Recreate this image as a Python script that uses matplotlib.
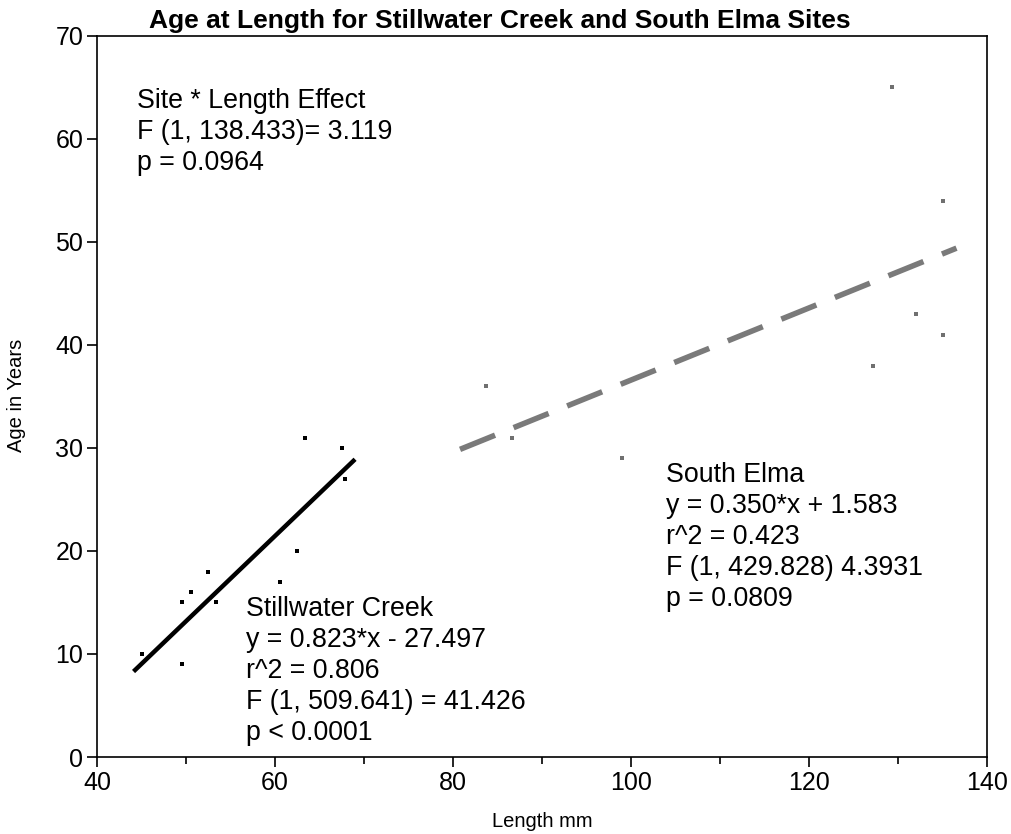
import matplotlib
matplotlib.use("Agg")
import matplotlib.pyplot as plt
import numpy as np
from matplotlib.ticker import MultipleLocator

plt.rcParams['font.family'] = ['Liberation Sans', 'DejaVu Sans']

# Stillwater Creek observations
sw_length = [63.4, 67.5, 67.9, 62.5, 52.5, 60.6, 50.6, 49.6, 53.4, 45.1, 49.6]
sw_age = [31, 30, 27, 20, 18, 17, 16, 15, 15, 10, 9]
# fitted line (endpoints as drawn)
sw_fit_x = [44.1, 69.0]
sw_fit_y = [8.3, 28.9]

# South Elma observations
se_length = [83.7, 86.6, 99.0, 129.3, 135.1, 132.0, 135.1, 127.2]
se_age = [36, 31, 29, 65, 54, 43, 41, 38]
se_slope, se_intercept = 0.350, 1.583
se_range = [80.8, 136.6]

fig = plt.figure(figsize=(10.11, 8.34), dpi=100)
ax = fig.add_axes([0.096, 0.0923, 0.880, 0.8647])

ax.scatter(sw_length, sw_age, s=5, color='black', marker='s', linewidths=0, zorder=3)
ax.scatter(se_length, se_age, s=5, color='#707070', marker='s', linewidths=0, zorder=3)

ax.plot(sw_fit_x, sw_fit_y, color='black', lw=3.2, solid_capstyle='butt')
xs = np.array(se_range)
ax.plot(xs, se_slope * xs + se_intercept, color='#7a7a7a', lw=4.0,
        dashes=(6.8, 3.6), solid_capstyle='butt')

ax.set_xlim(40, 140)
ax.set_ylim(0, 70)
ax.xaxis.set_major_locator(MultipleLocator(20))
ax.xaxis.set_minor_locator(MultipleLocator(10))
ax.yaxis.set_major_locator(MultipleLocator(10))
ax.tick_params(axis='both', which='major', direction='out', length=7, width=1.2,
               labelsize=18, top=False, right=False, pad=3)
ax.tick_params(axis='x', which='minor', direction='out', length=5, width=1.2, top=False)
for sp in ax.spines.values():
    sp.set_linewidth(1.2)

ax.set_xlabel('Length mm', fontsize=14.5)
ax.set_ylabel('Age in Years', fontsize=14.5)
ax.xaxis.set_label_coords(0.501, -0.076)
ax.yaxis.set_label_coords(-0.080, 0.502)
fig.text(500 / 1011, 1 - 21 / 834,
         'Age at Length for Stillwater Creek and South Elma Sites',
         fontsize=19, fontweight='bold', ha='center', va='center')

txt_kw = dict(fontsize=19.3, va='top', ha='left', linespacing=1.24)
ax.text(44.5, 64.9, 'Site * Length Effect\nF (1, 138.433)= 3.119\np = 0.0964', **txt_kw)
ax.text(56.7, 15.6, 'Stillwater Creek\ny = 0.823*x - 27.497\nr^2 = 0.806\nF (1, 509.641) = 41.426\np < 0.0001', **txt_kw)
ax.text(103.9, 28.6, 'South Elma\ny = 0.350*x + 1.583\nr^2 = 0.423\nF (1, 429.828) 4.3931\np = 0.0809', **txt_kw)

fig.savefig('out.png', dpi=100)
